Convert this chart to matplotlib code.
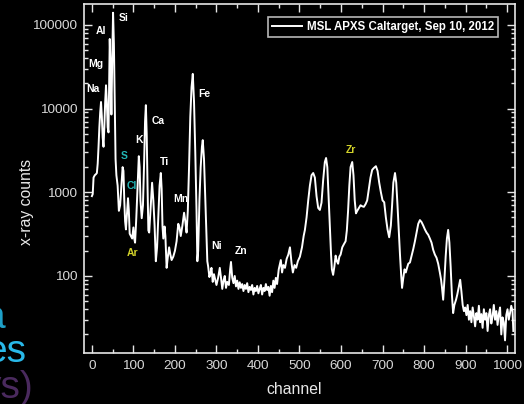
import matplotlib
matplotlib.use("Agg")
import matplotlib.pyplot as plt
from matplotlib.ticker import MultipleLocator, LogLocator, NullFormatter, FixedLocator

plt.rcParams['font.family'] = ['Liberation Sans', 'DejaVu Sans']

channel = [0, 2, 4, 7, 10, 12, 14, 16, 18, 20, 22, 24, 26, 28, 30, 32, 34, 36, 38, 40,
           42, 43, 45, 47, 49, 51, 53, 55, 57, 59, 62, 65, 68, 71, 74, 76, 78, 80, 82, 85,
           87, 89, 91, 94, 97, 100, 102, 104, 107, 110, 113, 115, 117, 120, 123, 126, 128, 130, 132, 134,
           136, 138, 141, 145, 148, 151, 154, 157, 160, 163, 166, 168, 170, 172, 175, 177, 180, 183, 186, 189,
           192, 196, 200, 204, 208, 211, 214, 218, 222, 225, 228, 231, 234, 237, 240, 243, 246, 249, 252, 254,
           256, 259, 262, 265, 267, 270, 273, 276, 278,
           280, 283, 286, 288, 291, 294, 297, 300, 304, 308, 311, 314, 317, 320, 323, 326, 330, 333, 335, 338,
           341, 344, 347, 350, 353, 356, 359, 362, 365, 368, 371, 374, 377, 380, 383, 386, 389, 392, 395, 398,
           401, 404, 407, 410, 413, 416, 419, 422, 425, 428, 431, 434, 437, 440, 443, 446, 450, 455, 458, 461,
           465, 469, 473, 477, 481, 484, 488, 492, 496, 501, 506, 510, 513, 517, 521, 525, 529, 533, 537, 541,
           545, 549, 553, 557, 561, 564, 567, 570, 573, 576, 578, 581, 584, 587, 590, 593, 596, 599, 603, 607,
           611, 614, 617, 620, 623, 627, 630, 633, 636, 639, 643, 647, 651, 655, 659, 663, 667, 671, 675, 679,
           684, 688, 692, 696, 700, 704, 708, 712, 716, 720, 723, 726, 730, 733, 736, 739, 742, 745, 747, 750,
           753, 756, 759, 762, 766, 770, 774, 778, 782, 786, 790, 794, 798, 802, 806, 810, 814, 818, 822, 826,
           830, 834, 838, 841, 843, 846, 849, 852, 855, 858, 861, 864, 867, 870, 873, 877, 880, 884, 887, 890,
           893, 896, 899, 902, 905, 908, 911, 914, 917, 920, 923, 926, 929, 932, 935, 938, 941, 944, 947, 950,
           953, 956, 959, 962, 965, 968, 971, 974, 977, 980, 983, 986, 989, 992, 995, 998, 1001, 1004, 1007, 1010,
           1013, 1015]

counts = [900, 950, 1500, 1600, 1650, 1700, 2200, 3500, 6000, 9000, 12000, 8000, 4500, 3500, 6000, 12000, 19000, 12000, 6000, 5200,
          30000, 68000, 30000, 8500, 40000, 140000, 60000, 12000, 2500, 1600, 1200, 600, 700, 1200, 2000, 1800, 800, 450, 360, 600,
          850, 600, 320, 300, 280, 380, 280, 250, 500, 1200, 2700, 2000, 800, 490, 700, 2500, 7000, 11000, 5000, 1200,
          350, 330, 600, 1300, 800, 400, 150, 220, 500, 1200, 1700, 1100, 400, 280, 390, 300, 125, 170, 220, 180,
          155, 170, 200, 260, 420, 380, 300, 400, 570, 450, 330, 600, 2000, 8000, 18000, 26000, 12000, 3000, 600, 150,
          200, 800, 2000, 3500, 4200, 2500, 900, 300, 150,
          130, 97, 110, 125, 85, 105, 90, 78, 95, 125, 95, 70, 88, 100, 72, 85, 78, 120, 147, 95,
          82, 100, 75, 88, 70, 84, 72, 80, 66, 78, 70, 82, 64, 74, 68, 78, 60, 72, 66, 76,
          62, 70, 78, 60, 72, 66, 80, 68, 74, 58, 76, 64, 88, 72, 95, 80, 120, 155, 110, 135,
          125, 160, 180, 220, 140, 110, 135, 125, 150, 170, 220, 300, 355, 500, 800, 1200, 1600, 1700, 1500, 900,
          650, 615, 750, 1400, 2300, 2570, 2000, 900, 400, 180, 120, 103, 130, 175, 150, 140, 170, 180, 220, 240,
          260, 350, 600, 1200, 2000, 2300, 1600, 800, 560, 600, 650, 700, 680, 670, 720, 800, 1100, 1500, 1850, 1950,
          2050, 1800, 1300, 1000, 800, 760, 500, 360, 290, 400, 700, 1300, 1700, 1300, 700, 350, 180, 100, 72, 95,
          120, 110, 125, 140, 145, 175, 210, 260, 330, 420, 465, 440, 400, 360, 330, 310, 280, 250, 205, 180,
          165, 140, 110, 90, 74, 52, 90, 170, 280, 355, 250, 130, 60, 36, 45, 52, 60, 75, 90, 65,
          45, 38, 42, 34, 45, 30, 38, 28, 42, 33, 25, 36, 30, 44, 28, 35, 24, 40, 30, 36,
          22, 34, 40, 27, 33, 45, 30, 38, 26, 35, 42, 20, 32, 28, 17, 34, 40, 30, 36, 44,
          38, 22]

elements = ['Si', 'Al', 'Mg', 'Na', 'Fe', 'Ca', 'K', 'S', 'Ti', 'Cl', 'Mn', 'Ar', 'Ni', 'Zn', 'Zr']
label_ch = [77, 22, 10, 2, 270, 159, 113, 77, 176, 96, 214, 99, 301, 359, 624]
label_counts = [121000, 85000, 34000, 17000, 14800, 7100, 4200, 2700, 2300, 1200, 830, 190, 230, 200, 3200]
label_colors = ['white', 'white', 'white', 'white', 'white', 'white', 'white', '#22b5b5', 'white', '#22b5b5',
                'white', '#d2d22a', 'white', 'white', '#d2d22a']

legend_label = 'MSL APXS Caltarget, Sep 10, 2012'

fig = plt.figure(figsize=(5.24, 4.04), dpi=100, facecolor='black')
ax = fig.add_axes([84/524, 1-353/404, (515-84)/524, (353-4)/404])
ax.set_facecolor('black')

ax.plot(channel, counts, color='white', lw=1.4, label=legend_label)
ax.set_yscale('log')
ax.set_xlim(-19, 1019)
ax.set_ylim(12, 178000)

for e, xc, yc, col in zip(elements, label_ch, label_counts, label_colors):
    ax.text(xc, yc, e, color=col, fontsize=7.5, fontweight='bold', ha='center', va='center')

fc = '#e6e6e6'
for s in ax.spines.values():
    s.set_color(fc)
    s.set_linewidth(1.2)

ax.xaxis.set_major_locator(MultipleLocator(100))
ax.xaxis.set_minor_locator(MultipleLocator(50))
ax.yaxis.set_major_locator(FixedLocator([100, 1000, 10000, 100000]))
ax.yaxis.set_minor_locator(LogLocator(base=10, subs=range(2, 10)))
ax.yaxis.set_minor_formatter(NullFormatter())
ax.set_yticklabels(['100', '1000', '10000', '100000'])
ax.tick_params(which='both', direction='in', top=True, right=True, colors=fc, labelcolor='#d8d8d8', width=1.0)
ax.tick_params(which='major', length=6, labelsize=9.7, pad=5)
ax.tick_params(which='minor', length=3)

ax.set_xlabel('channel', color='#e8e8e8', fontsize=11.3)
ax.xaxis.set_label_coords((294-84)/431, -(382-353)/349)
ax.set_ylabel('x-ray counts', color='#e8e8e8', fontsize=11.3)
ax.yaxis.set_label_coords(-(84-34)/431, (353-202)/349)

leg = ax.legend(loc='upper right', bbox_to_anchor=((498-84)/431, (353-17)/349), borderaxespad=0,
                frameon=True, fancybox=False, facecolor='black', edgecolor='#e6e6e6',
                prop={'size': 8.3, 'weight': 'bold'}, handlelength=2.6, borderpad=0.35, handletextpad=0.4)
leg.get_frame().set_linewidth(1.2)
for t in leg.get_texts():
    t.set_color('white')

# background slide fragments on the left edge (cut off in the reference as well)
fig.text(5/524, 1-328/404, 'a', color='#1ea0c8', fontsize=28, ha='right', va='baseline')
fig.text(26/524, 1-362/404, 'es', color='#29b8e8', fontsize=28, ha='right', va='baseline')
fig.text(34/524, 1-398/404, 'ys)', color='#4a2a5e', fontsize=28, ha='right', va='baseline')

fig.savefig('out.png', dpi=100, facecolor='black')
